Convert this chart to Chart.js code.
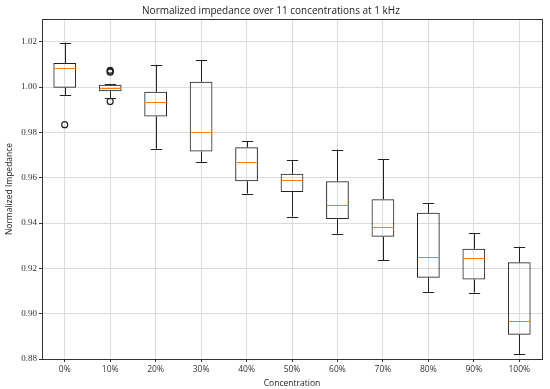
<!DOCTYPE html>
<html>
<head>
<meta charset="utf-8">
<script src="https://cdn.jsdelivr.net/npm/chart.js@4/dist/chart.umd.min.js"></script>
<style>
	body { margin: 0; background: #fff; }
	#wrap { width: 550px; height: 389px; position: relative; }
</style>
</head>
<body>
<div id="wrap"><canvas id="myChart"></canvas></div>
<script>
// Box plot statistics
const labels = ["0%", "10%", "20%", "30%", "40%", "50%", "60%", "70%", "80%", "90%", "100%"];
const whiskerLow = [0.9965, 0.9950, 0.9728, 0.9668, 0.9530, 0.9428, 0.9353, 0.9237, 0.9096, 0.9093, 0.8820];
const q1 = [0.9997, 0.9981, 0.9870, 0.9715, 0.9584, 0.9537, 0.9418, 0.9339, 0.9159, 0.9151, 0.8907];
const medians = [1.0083, 0.9995, 0.9932, 0.9802, 0.9668, 0.9590, 0.9478, 0.9381, 0.9252, 0.9244, 0.8968];
const q3 = [1.0106, 1.0010, 0.9979, 1.0023, 0.9734, 0.9617, 0.9584, 0.9505, 0.9445, 0.9286, 0.9227];
const whiskerHigh = [1.0196, 1.0013, 1.0098, 1.0118, 0.9762, 0.9677, 0.9723, 0.9681, 0.9489, 0.9356, 0.9295];

// outliers (fliers)
const outlierCats = ["0%", "10%", "10%", "10%", "10%"];
const outlierValues = [0.9834, 1.0074, 1.0069, 1.0065, 0.9936];

const boxes = labels.map((l, i) => [q1[i], q3[i]]);
const fliers = outlierCats.map((c, i) => ({ x: c, y: outlierValues[i] }));

// draws whiskers, caps, medians and the frame
const boxExtras = {
	id: "boxExtras",
	afterDatasetsDraw(chart) {
		const ctx = chart.ctx;
		const x = chart.scales.x;
		const y = chart.scales.y;
		const step = x.getPixelForValue(1) - x.getPixelForValue(0);
		const half = step * 0.25;
		const cap = half * 0.5;
		ctx.save();
		ctx.lineWidth = 1;
		for (let i = 0; i < labels.length; i++) {
			const px = Math.round(x.getPixelForValue(i)) + 0.5;
			ctx.strokeStyle = "#222";
			ctx.beginPath();
			ctx.moveTo(px, y.getPixelForValue(q3[i]));
			ctx.lineTo(px, y.getPixelForValue(whiskerHigh[i]));
			ctx.moveTo(px, y.getPixelForValue(q1[i]));
			ctx.lineTo(px, y.getPixelForValue(whiskerLow[i]));
			let yh = Math.round(y.getPixelForValue(whiskerHigh[i])) + 0.5;
			let yl = Math.round(y.getPixelForValue(whiskerLow[i])) + 0.5;
			ctx.moveTo(px - cap, yh);
			ctx.lineTo(px + cap, yh);
			ctx.moveTo(px - cap, yl);
			ctx.lineTo(px + cap, yl);
			ctx.stroke();

			ctx.strokeStyle = "#ff7f0e";
			const ym = Math.round(y.getPixelForValue(medians[i])) + 0.5;
			ctx.beginPath();
			ctx.moveTo(px - half + 0.5, ym);
			ctx.lineTo(px + half - 0.5, ym);
			ctx.stroke();
		}
		const a = chart.chartArea;
		ctx.strokeStyle = "#333";
		ctx.strokeRect(Math.round(a.left) + 0.5, Math.round(a.top) + 0.5, Math.round(a.right - a.left), Math.round(a.bottom - a.top));
		ctx.restore();
	}
};

const ctx = document.getElementById("myChart").getContext("2d");
const myChart = new Chart(ctx, {
	type: "bar",
	data: {
		labels: labels,
		datasets: [
			{
				data: boxes,
				backgroundColor: "rgba(255,255,255,0)",
				borderColor: "#222",
				borderWidth: 1,
				borderSkipped: false,
				categoryPercentage: 1,
				barPercentage: 0.5,
				order: 2
			},
			{
				type: "scatter",
				data: fliers,
				pointStyle: "circle",
				pointRadius: 3,
				borderColor: "#222",
				borderWidth: 1.2,
				backgroundColor: "rgba(255,255,255,0)",
				order: 1
			}
		]
	},
	options: {
		responsive: true,
		maintainAspectRatio: false,
		animation: false,
		layout: { padding: { left: 0, right: 8, top: 0, bottom: 0 } },
		plugins: {
			legend: { display: false },
			tooltip: { enabled: false },
			title: {
				display: true,
				text: "Normalized impedance over 11 concentrations at 1 kHz",
				color: "#222",
				font: { family: "Open Sans", size: 10, weight: "normal" },
				padding: { top: 5, bottom: 2 }
			}
		},
		scales: {
			x: {
				type: "category",
				offset: true,
				grid: { offset: false, color: "#dcdcdc", tickColor: "#333", tickLength: 3 },
				border: { color: "#333" },
				ticks: { color: "#333", font: { family: "Open Sans", size: 8.5 }, padding: 2 },
				title: { display: true, text: "Concentration", color: "#222", font: { family: "Open Sans", size: 8.5 }, padding: 0 },
				afterFit(scale) { scale.height = 30; }
			},
			y: {
				min: 0.88,
				max: 1.03,
				grid: { color: "#dcdcdc", tickColor: "#333", tickLength: 3 },
				border: { color: "#333" },
				ticks: {
					stepSize: 0.02,
					includeBounds: false,
					color: "#333",
					font: { family: "Liberation Serif", size: 9 },
					padding: 2,
					callback: v => v.toFixed(2)
				},
				title: { display: true, text: "Normalized Impedance", color: "#222", font: { family: "Open Sans", size: 8.5 }, padding: { top: 4, bottom: 0 } },
				afterFit(scale) { scale.width = 42; }
			}
		}
	},
	plugins: [boxExtras]
});
</script>
</body>
</html>
